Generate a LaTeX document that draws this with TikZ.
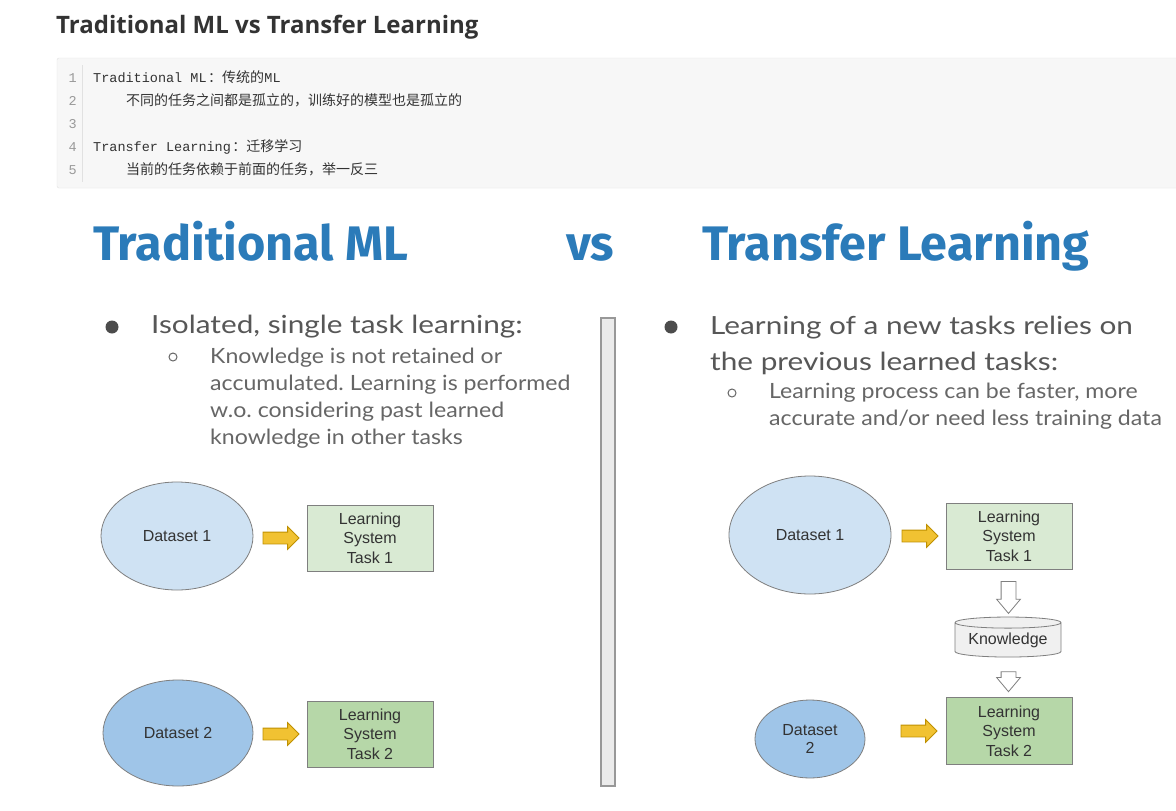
\documentclass[tikz,border=0pt]{standalone}
\usepackage{fontspec}
\setmainfont{Liberation Sans}
\newfontfamily\headfont{Open Sans}
\newfontfamily\slidefont[FakeStretch=1.19]{Lato}
\newfontfamily\slidesubfont[FakeStretch=1.1]{Lato}
\newfontfamily\titlefont{Fira Sans}
\newfontfamily\codefont{Liberation Mono}
\newfontfamily\cjk{Noto Sans CJK SC}
\usetikzlibrary{shapes,arrows,positioning,calc}
\frenchspacing

\definecolor{headgray}{HTML}{333333}
\definecolor{codebg}{HTML}{F7F7F7}
\definecolor{codeline}{HTML}{E1E1E1}
\definecolor{numgray}{HTML}{999999}
\definecolor{slideblue}{HTML}{2B7BB9}
\definecolor{slidetext}{HTML}{575757}
\definecolor{subtext}{HTML}{666666}
\definecolor{lightblue}{HTML}{CFE2F3}
\definecolor{midblue}{HTML}{9FC5E8}
\definecolor{lightgreen}{HTML}{D9EAD3}
\definecolor{midgreen}{HTML}{B6D7A8}
\definecolor{arrowyellow}{HTML}{F1C232}
\definecolor{arrowedge}{HTML}{BF9000}
\definecolor{shapeedge}{HTML}{7F7F7F}
\definecolor{shapetext}{HTML}{333333}

\begin{document}
\begin{tikzpicture}[
    x=1pt, y=-1pt,
    codetxt/.style={anchor=base west, inner sep=0, font=\codefont\fontsize{13.5}{16}\selectfont, text=headgray},
    cjktxt/.style={anchor=base west, inner sep=0, font=\cjk\fontsize{14}{16}\selectfont, text=headgray},
    linenum/.style={anchor=base east, inner sep=0, font=\codefont\fontsize{13.5}{16}\selectfont, text=numgray},
    bigtitle/.style={anchor=base west, inner sep=0, font=\titlefont\bfseries\fontsize{48.5}{56}\selectfont, text=slideblue},
    bullettxt/.style={anchor=base west, inner sep=0, align=left, font=\slidefont\fontsize{25}{36}\selectfont, text=slidetext},
    subtxt/.style={anchor=base west, inner sep=0, align=left, font=\slidesubfont\fontsize{21}{27}\selectfont, text=subtext},
    dataset/.style={ellipse, draw=shapeedge, thick, inner sep=0, text=shapetext, font=\fontsize{16}{18}\selectfont, align=center},
    learnbox/.style={rectangle, draw=shapeedge, thick, minimum width=126, minimum height=66, inner sep=0, text=shapetext, font=\fontsize{16}{19.5}\selectfont, align=center},
    yarrow/.style={single arrow, draw=arrowedge, fill=arrowyellow, thick, minimum height=36, minimum width=21, single arrow head extend=5.5, inner sep=0, inner ysep=5.5},
    downarrow/.style={single arrow, shape border rotate=270, draw=shapeedge, fill=white, thick, minimum width=23, single arrow head extend=4.5, single arrow tip angle=80, inner sep=0, inner xsep=7}
]
\fill[white] (0,0) rectangle (1176,811);
\useasboundingbox (0,0) rectangle (1176,811);

% Heading
\node[anchor=base west, inner sep=0, font=\headfont\bfseries\fontsize{24}{28}\selectfont, text=headgray] (heading) at (56,33) {Traditional ML vs Transfer Learning};

% Code block
\draw[codeline, fill=codebg, rounded corners=2] (57,58) rectangle (1190,188);
\draw[codeline] (82,65) -- (82,182);
\node[linenum] (n1) at (77,82) {1};
\node[linenum] (n2) at (77,105) {2};
\node[linenum] (n3) at (77,128) {3};
\node[linenum] (n4) at (77,151) {4};
\node[linenum] (n5) at (77,174) {5};
\node[codetxt] (c1) at (93,82) {Traditional ML};
\node[cjktxt, right=1pt of c1.base east, anchor=base west] (c1b) {：传统的};
\node[codetxt, right=0pt of c1b.base east, anchor=base west] (c1c) {ML};
\node[cjktxt] (c2) at (126,105) {不同的任务之间都是孤立的，训练好的模型也是孤立的};
\node[codetxt] (c4) at (93,151) {Transfer Learning};
\node[cjktxt, right=1pt of c4.base east, anchor=base west] (c4b) {：迁移学习};
\node[cjktxt] (c5) at (126,174) {当前的任务依赖于前面的任务，举一反三};

% Slide titles
\node[bigtitle] (tradtitle) at (93,260) {Traditional ML};
\node[bigtitle] (vstitle) at (566,260) {vs};
\node[bigtitle] (transtitle) at (702,260) {Transfer Learning};

% Divider
\draw[shapeedge!80, line width=2, fill=black!8] (601,318) rectangle (615,786);

% Left bullets (base = last line)
\fill[black!70] (112,327) circle (6.5);
\node[bullettxt] (tradpt) at (151,333) {Isolated, single task learning:};
\draw[subtext, line width=1] (173,357) circle (4);
\node[subtxt] (tradsub) at (210,444) {Knowledge is not retained or\\accumulated. Learning is performed\\w.o. considering past learned\\knowledge in other tasks};

% Right bullets
\fill[black!70] (671,327) circle (6.5);
\node[bullettxt] (transpt) at (710,370) {Learning of a new tasks relies on\\the previous learned tasks:};
\draw[subtext, line width=1] (732,393) circle (4);
\node[subtxt] (transsub) at (769,425) {Learning process can be faster, more\\accurate and/or need less training data};

% Traditional ML diagram
\node[dataset, fill=lightblue, minimum width=152, minimum height=108] (tds1) at (177,536) {Dataset 1};
\node[learnbox, fill=lightgreen] (tls1) at (370,538) {Learning\\System\\Task 1};
\node[yarrow, left=7pt of tls1] (tarr1) {};

\node[dataset, fill=midblue, minimum width=150, minimum height=106] (tds2) at (178,733) {Dataset 2};
\node[learnbox, fill=midgreen] (tls2) at (370,734) {Learning\\System\\Task 2};
\node[yarrow, left=7pt of tls2] (tarr2) {};

% Transfer Learning diagram
\node[dataset, fill=lightblue, minimum width=162, minimum height=118] (rds1) at (810,535) {Dataset 1};
\node[learnbox, fill=lightgreen] (rls1) at (1009,536) {Learning\\System\\Task 1};
\node[yarrow, left=7pt of rls1] (rarr1) {};

\node[cylinder, shape border rotate=90, aspect=0.14, draw=shapeedge, thick, fill=black!6, minimum width=106, minimum height=40, inner sep=0, text=shapetext, font=\fontsize{16}{18}\selectfont] (know) at (1008,640) {Knowledge};
\node[downarrow, minimum height=32] (darr1) at ($(rls1.south)!0.5!(know.north)$) {};

\node[learnbox, fill=midgreen, minimum height=67] (rls2) at (1009,731) {Learning\\System\\Task 2};
\node[downarrow, minimum height=20] (darr2) at ($(know.south)!0.5!(rls2.north)$) {};

\node[dataset, fill=midblue, minimum width=110, minimum height=78] (rds2) at (810,739) {Dataset\\2};
\node[yarrow, left=8pt of rls2] (rarr2) {};

\end{tikzpicture}
\end{document}
